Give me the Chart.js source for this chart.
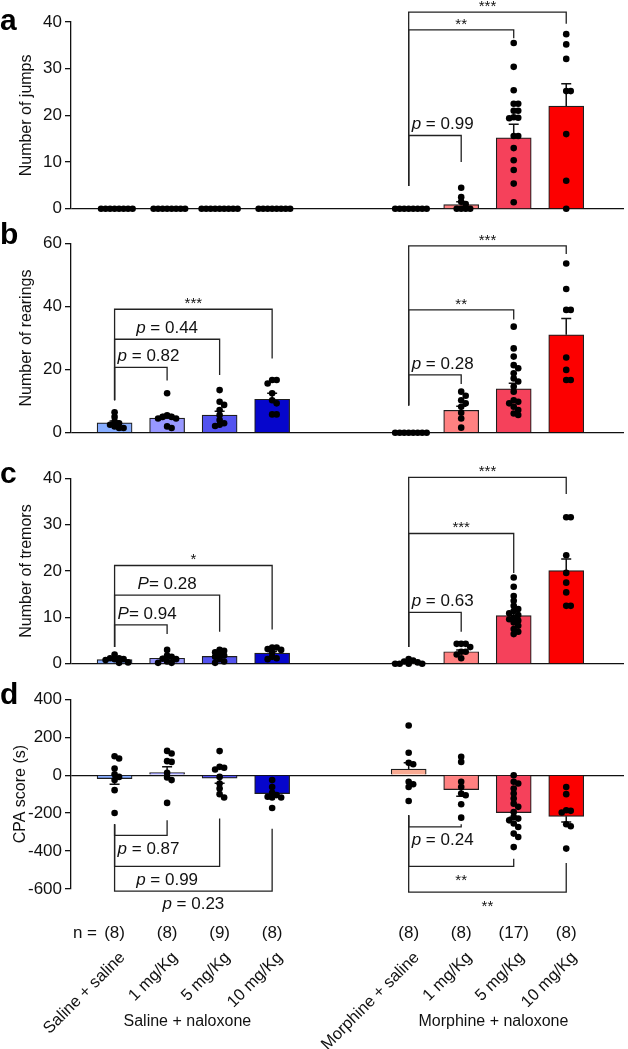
<!DOCTYPE html>
<html>
<head>
<meta charset="utf-8">
<script src="https://cdn.jsdelivr.net/npm/chart.js@4.4.0/dist/chart.umd.min.js"></script>
<style>
  html, body { margin: 0; padding: 0; background: #fff; }
  #wrap { position: relative; width: 628px; height: 1049px; }
  canvas { position: absolute; left: 0; display: block; }
</style>
</head>
<body>
<div id="wrap">
  <canvas id="cA" width="628" height="222" style="top:0px"></canvas>
  <canvas id="cB" width="628" height="228" style="top:222px"></canvas>
  <canvas id="cC" width="628" height="227" style="top:450px"></canvas>
  <canvas id="cD" width="628" height="372" style="top:677px"></canvas>
</div>
<script>
// ---- data ----
const categories = ['Saline + saline', '1 mg/Kg', '5 mg/Kg', '10 mg/Kg',
                    'Morphine + saline', '1 mg/Kg', '5 mg/Kg', '10 mg/Kg'];
const nPrefix = 'n =';
const nLabels = ['(8)', '(8)', '(9)', '(8)', '(8)', '(8)', '(17)', '(8)'];
const groupLabels = ['Saline + naloxone', 'Morphine + naloxone'];
const xPos = [0, 1, 2, 3, 5.6, 6.6, 7.6, 8.6];
const barColors = ['#87adff', '#9898ff', '#5353ef', '#0606cc', '#f9aa92', '#ff8181', '#f5415b', '#fc0000'];

// a: jumps
const jumpsMean = [0, 0, 0, 0, 0, 0.9, 15.2, 22.0];
const jumpsSem = [0, 0, 0, 0, 0, 0.6, 2.9, 4.8];
const jumpsPoints = [
  [0, 0, 0, 0, 0, 0, 0, 0],
  [0, 0, 0, 0, 0, 0, 0, 0],
  [0, 0, 0, 0, 0, 0, 0, 0, 0],
  [0, 0, 0, 0, 0, 0, 0, 0],
  [0, 0, 0, 0, 0, 0, 0, 0],
  [4.5, 2.5, 1.5, 1, 0, 0, 0, 0],
  [35.5, 30.4, 25.4, 22.5, 22.5, 21, 21, 19.6, 19.5, 19.4, 15.6, 15.6, 13, 10.4, 8.3, 5.4, 1.4],
  [37.4, 35.2, 32.1, 25.2, 25.2, 16, 6, 0]
];

// b: rearings
const rearMean = [3.1, 4.6, 5.6, 10.6, 0, 7.1, 13.9, 31.0];
const rearSem = [0.6, 1.2, 1.2, 1.9, 0, 1.3, 1.8, 5.2];
const rearPoints = [
  [6.5, 5, 3.5, 3, 2.5, 2, 1.5, 1.5],
  [12.5, 5.5, 5, 5, 4.5, 4.5, 2, 1.5],
  [13.5, 9.8, 8.8, 7.2, 5.6, 4, 3, 2.5, 2.1],
  [16.7, 16.7, 15.6, 12.5, 10.3, 9.3, 5.8, 5.8],
  [0, 0, 0, 0, 0, 0, 0, 0],
  [13, 11.7, 10.3, 9.3, 8.2, 6.3, 4.5, 1.6],
  [33.6, 26.7, 24.1, 21.4, 20.4, 18.8, 17.2, 16.2, 14.6, 13, 10.3, 9.8, 9.3, 8.2, 7.2, 6.1, 5.6],
  [53.6, 45.5, 38.9, 38.9, 23.8, 19.9, 16.7, 16.7]
];

// c: tremors
const tremMean = [0.9, 1.2, 1.6, 2.3, 0.2, 2.6, 10.4, 20.1];
const tremSem = [0.2, 0.35, 0.3, 0.35, 0.15, 0.4, 0.8, 2.5];
const tremPoints = [
  [2, 1.2, 1.2, 1, 1, 0.8, 0.3, 0.2],
  [3, 1.8, 1.5, 1.1, 1, 0.5, 0.2, 0.2],
  [3, 2.8, 2.5, 2, 1.8, 1.5, 1, 0.5, 0.2],
  [3.5, 3.5, 3.2, 3, 2.5, 1.5, 1.2, 1],
  [1, 0.7, 0.5, 0.3, 0, 0, 0, 0],
  [4.3, 4.3, 4.3, 3.6, 2.6, 2.6, 2, 1.2],
  [18.6, 16.6, 14.6, 13.6, 12.5, 11.8, 11.4, 10.9, 10.5, 10, 9.6, 9.3, 8.9, 8.2, 7.5, 6.9, 6.4],
  [31.6, 31.6, 23.4, 19.6, 17.5, 15.4, 12.5, 12.5]
];

// d: CPA score
const cpaMean = [-18, 14, -16, -97, 32, -76, -197, -217];
const cpaSem = [30, 30, 27, 17, 33, 35, 25, 30];
const cpaPoints = [
  [100, 88, 35, 5, -9, -26, -79, -199],
  [128, 114, 74, 70, 12, -12, -26, -146],
  [127, 44, 39, 30, -9, -44, -70, -100, -118],
  [-26, -62, -93, -105, -114, -118, -118, -173],
  [262, 118, 65, 58, -35, -48, -62, -136],
  [97, 70, -35, -62, -97, -106, -153, -224],
  [0, -35, -44, -70, -97, -123, -150, -167, -194, -220, -229, -238, -255, -273, -308, -326, -379],
  [-62, -100, -185, -188, -197, -259, -269, -387]
];

// significance brackets: [from group, to group, level, left leg end, right leg end, label]
const jumpsBrackets = [
  [4, 5, 15.7, 4.9, 10, 'p = 0.99'],
  [4, 6, 38.3, 4.9, 36.5, '**'],
  [4, 7, 42.1, 4.9, 39.6, '***']
];
const rearBrackets = [
  [0, 1, 20.7, 10.3, 16.5, 'p = 0.82'],
  [0, 2, 29.6, 10.3, 18.3, 'p = 0.44'],
  [0, 3, 39.1, 10.3, 23.5, '***'],
  [4, 5, 18.3, 8.6, 15.4, 'p = 0.28'],
  [4, 6, 38.9, 8.6, 35.9, '**'],
  [4, 7, 59.2, 8.6, 56.6, '***']
];
const tremBrackets = [
  [0, 1, 8.4, 3.6, 6.4, 'P= 0.94'],
  [0, 2, 14.8, 3.6, 6.9, 'P= 0.28'],
  [0, 3, 21.2, 3.6, 7.4, '*'],
  [4, 5, 11.1, 3.6, 6.9, 'p = 0.63'],
  [4, 6, 28.1, 3.6, 19.6, '***'],
  [4, 7, 40.2, 3.6, 36.6, '***']
];
const cpaBrackets = [
  [0, 1, -317, -259, -238, 'p = 0.87'],
  [0, 2, -481, -259, -229, 'p = 0.99'],
  [0, 3, -611, -259, -282, 'p = 0.23'],
  [4, 5, -273, -211, -259, 'p = 0.24'],
  [4, 6, -481, -211, -440, '**'],
  [4, 7, -616, -211, -463, '**']
];

const FONT = '"Liberation Sans", Arial, Helvetica, sans-serif';
Chart.defaults.font.family = FONT;
Chart.defaults.color = '#111';

const panels = [
  { id: 'cA', letter: 'a', letterY: 30, title: 'Number of jumps', titlePad: 17, min: 0, max: 40, step: 10,
    pad: { top: 22, bottom: 12 }, mean: jumpsMean, sem: jumpsSem, pts: jumpsPoints, br: jumpsBrackets },
  { id: 'cB', letter: 'b', letterY: 22, title: 'Number of rearings', titlePad: 17, min: 0, max: 60, step: 20,
    pad: { top: 21.3, bottom: 17.3 }, mean: rearMean, sem: rearSem, pts: rearPoints, br: rearBrackets },
  { id: 'cC', letter: 'c', letterY: 33, title: 'Number of tremors', titlePad: 17, min: 0, max: 40, step: 10,
    pad: { top: 28.3, bottom: 12 }, mean: tremMean, sem: tremSem, pts: tremPoints, br: tremBrackets },
  { id: 'cD', letter: 'd', letterY: 27, title: 'CPA score (s)', titlePad: 11, min: -600, max: 400, step: 200,
    pad: { top: 22.3, bottom: 0 }, mean: cpaMean, sem: cpaSem, pts: cpaPoints, br: cpaBrackets, below: true }
];

function drawBrackets(chart, p) {
  const ctx = chart.ctx, xs = chart.scales.x, ys = chart.scales.y;
  ctx.save();
  ctx.strokeStyle = '#222';
  ctx.lineWidth = 1.3;
  ctx.fillStyle = '#111';
  p.br.forEach(([a, b, lvl, la, lb, txt]) => {
    const xa = xs.getPixelForValue(xPos[a]), xb = xs.getPixelForValue(xPos[b]);
    const yl = ys.getPixelForValue(lvl), ya = ys.getPixelForValue(la), yb = ys.getPixelForValue(lb);
    ctx.beginPath();
    ctx.moveTo(xa, ya); ctx.lineTo(xa, yl); ctx.lineTo(xb, yl); ctx.lineTo(xb, yb);
    ctx.stroke();
    const mid = (xa + xb) / 2;
    if (txt[0] === '*') {
      ctx.font = '15px ' + FONT;
      ctx.textAlign = 'center';
      ctx.textBaseline = 'alphabetic';
      ctx.fillText(txt, mid, p.below ? yl + 19 : yl - 1);
    } else {
      const it = txt[0], rest = txt.slice(1);
      ctx.font = 'italic 17px ' + FONT;
      const w1 = ctx.measureText(it).width;
      ctx.font = '17px ' + FONT;
      const w = w1 + ctx.measureText(rest).width;
      const x0 = Math.max(mid, xa + 3 + w / 2) - w / 2;
      const y = p.below ? yl + 5 : yl - 6;
      ctx.textAlign = 'left';
      ctx.textBaseline = p.below ? 'top' : 'alphabetic';
      ctx.font = 'italic 17px ' + FONT;
      ctx.fillText(it, x0, y);
      ctx.font = '17px ' + FONT;
      ctx.fillText(rest, x0 + w1, y);
    }
  });
  ctx.restore();
}

function panelPlugin(p, last) {
  return {
    id: 'panel' + p.letter,
    afterDatasetDraw(chart, args) {
      if (args.index !== 0) return;
      const ctx = chart.ctx, ys = chart.scales.y;
      ctx.save();
      ctx.strokeStyle = '#111';
      ctx.lineWidth = 1.5;
      args.meta.data.forEach((bar, i) => {
        const s = p.sem[i];
        if (!s) return;
        const m = p.mean[i], dir = m < 0 ? -1 : 1;
        const y0 = ys.getPixelForValue(m), y1 = ys.getPixelForValue(m + dir * s);
        ctx.beginPath();
        ctx.moveTo(bar.x, y0); ctx.lineTo(bar.x, y1);
        ctx.moveTo(bar.x - 5, y1); ctx.lineTo(bar.x + 5, y1);
        ctx.stroke();
      });
      ctx.restore();
    },
    afterDraw(chart) {
      const ctx = chart.ctx;
      drawBrackets(chart, p);
      ctx.save();
      ctx.fillStyle = '#000';
      ctx.font = 'bold 30px ' + FONT;
      ctx.textAlign = 'left';
      ctx.textBaseline = 'alphabetic';
      ctx.fillText(p.letter, 0, p.letterY);
      if (last) {
        const xs = chart.scales.x, bottom = chart.chartArea.bottom;
        ctx.fillStyle = '#111';
        ctx.font = '17px ' + FONT;
        ctx.textBaseline = 'middle';
        ctx.textAlign = 'right';
        ctx.fillText(nPrefix, 97, bottom + 44);
        ctx.textAlign = 'center';
        nLabels.forEach((t, i) => ctx.fillText(t, xs.getPixelForValue(xPos[i]), bottom + 44));
        ctx.font = '16px ' + FONT;
        ctx.fillText(groupLabels[0], xs.getPixelForValue((xPos[0] + xPos[3]) / 2) - 6, bottom + 133);
        ctx.fillText(groupLabels[1], xs.getPixelForValue((xPos[4] + xPos[7]) / 2) + 6, bottom + 133);
      }
      ctx.restore();
    }
  };
}

function swarm(chart, p) {
  const xs = chart.scales.x, ys = chart.scales.y;
  const ppu = xs.getPixelForValue(1) - xs.getPixelForValue(0);
  const data = [];
  p.pts.forEach((vals, g) => {
    const placed = [];
    vals.forEach(v => {
      const py = ys.getPixelForValue(v);
      let dx = 0;
      for (let k = 0; k < 40; k++) {
        const cand = (k % 2 ? 1 : -1) * Math.ceil(k / 2) * 4.5;
        if (placed.every(q => (q[0] - cand) ** 2 + (q[1] - py) ** 2 >= 20)) { dx = cand; break; }
      }
      placed.push([dx, py]);
      data.push({ x: xPos[g] + dx / ppu, y: v });
    });
  });
  chart.data.datasets[1].data = data;
  chart.update('none');
}

panels.forEach((p, idx) => {
  const last = idx === panels.length - 1;
  const pts = [];
  p.pts.forEach((vals, g) => vals.forEach(v => pts.push({ x: xPos[g], y: v })));
  const chart = new Chart(document.getElementById(p.id), {
    type: 'bar',
    data: {
      datasets: [
        { type: 'bar', data: xPos.map((x, i) => ({ x: x, y: p.mean[i] })),
          backgroundColor: barColors, borderColor: '#1e1e1e', borderWidth: 1.2,
          barThickness: 35, order: 2 },
        { type: 'scatter', data: pts, backgroundColor: '#000', pointRadius: 3.3,
          borderWidth: 0, clip: false, order: 1 }
      ]
    },
    options: {
      responsive: false,
      animation: false,
      events: [],
      layout: { padding: { left: 0, right: 0, top: p.pad.top, bottom: p.pad.bottom } },
      plugins: { legend: { display: false }, tooltip: { enabled: false } },
      scales: {
        x: {
          type: 'linear', min: -0.83, max: 9.7, offset: false, display: last,
          grid: { display: false, drawTicks: false, offset: false },
          border: { display: false },
          afterBuildTicks: s => { s.ticks = xPos.map(v => ({ value: v })); },
          afterFit: s => {
            s.height = last ? 160 : 0;
            s.paddingLeft = 0;
            s.paddingRight = 0;
          },
          ticks: { autoSkip: false, minRotation: 45, maxRotation: 45, padding: 59, labelOffset: 8,
                   color: '#111', font: { size: 16.5 }, callback: (v, i) => categories[i] }
        },
        y: {
          min: p.min, max: p.max,
          afterFit: s => { s.width = 71; },
          ticks: { stepSize: p.step, color: '#111', padding: 3, font: { size: 17 } },
          grid: { color: c => (c.tick && c.tick.value === 0) ? '#111' : 'rgba(0,0,0,0)',
                  lineWidth: 1.3, tickLength: 6, tickColor: '#111' },
          border: { display: true, color: '#111', width: 1.3 },
          title: { display: true, text: p.title, color: '#111', font: { size: 16 },
                   padding: { top: p.titlePad, bottom: 0 } }
        }
      }
    },
    plugins: [panelPlugin(p, last)]
  });
  swarm(chart, p);
});
</script>
</body>
</html>
